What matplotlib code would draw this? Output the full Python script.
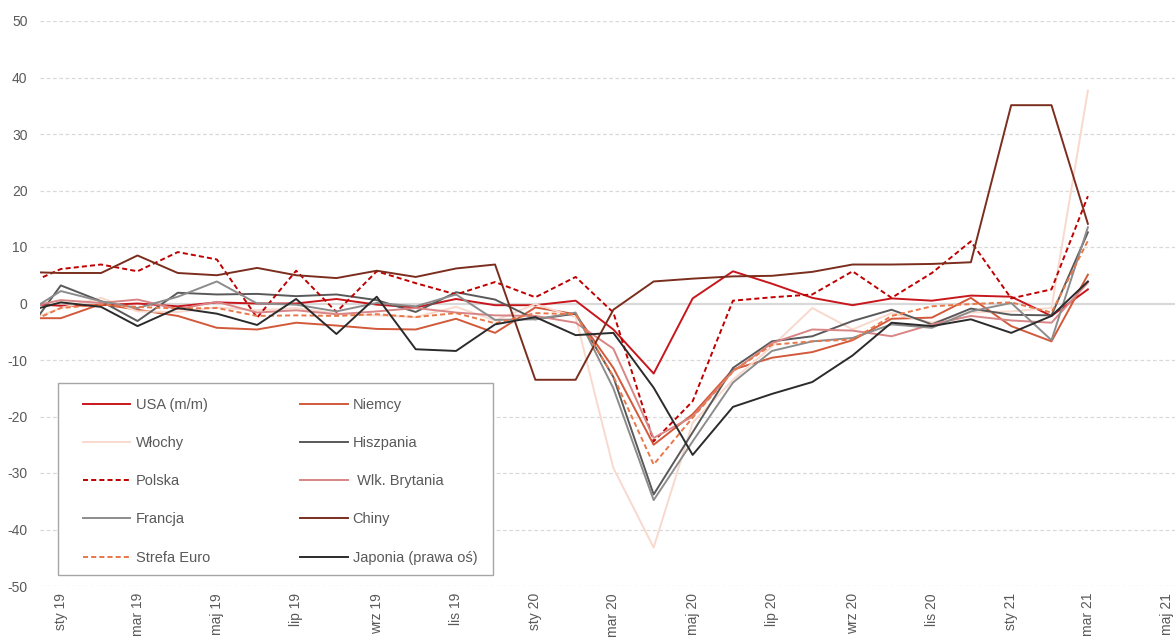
"""Industrial production: USA m/m, other economies y/y, Jan 2019 - Mar 2021."""

import matplotlib

matplotlib.use("Agg")  # headless
import matplotlib.pyplot as plt
import pandas as pd
from matplotlib.patches import Rectangle

# monthly observations, Dec 2018 .. Mar 2021 (Dec 2018 sits just off the left edge)
months = pd.date_range("2018-12-01", "2021-03-01", freq="MS")

usa = [0.0, -0.4, -0.3, 0.0, -0.5, 0.2, 0.0, 0.0, 0.8, -0.2, -0.7, 0.8, -0.3, -0.3,
       0.5, -4.6, -12.4, 0.9, 5.7, 3.5, 1.0, -0.3, 0.9, 0.5, 1.4, 1.2, -2.2, 2.5]
niemcy = [-2.6, -2.6, -0.1, -1.1, -2.2, -4.3, -4.6, -3.4, -3.9, -4.5, -4.6, -2.7, -5.2, -0.7,
          -1.9, -11.4, -25.0, -19.6, -11.7, -9.6, -8.6, -6.5, -2.7, -2.5, 1.0, -4.0, -6.7, 5.1]
wlochy = [-3.5, -0.8, 1.0, -1.4, -1.5, -0.7, -1.2, -0.8, -1.8, -2.1, -2.4, -0.6, -3.0, -0.1,
          -2.4, -29.1, -43.2, -21.1, -13.5, -7.6, -0.8, -4.6, -1.7, -3.4, -1.6, -1.4, -0.8, 37.7]
hiszpania = [-6.6, 3.2, 0.4, -3.1, 1.9, 1.6, 1.7, 1.3, 1.6, 0.6, -1.5, 2.0, 0.7, -2.8,
             -1.8, -13.0, -33.8, -22.8, -11.4, -6.7, -5.8, -3.1, -1.1, -3.7, -0.9, -2.0, -2.1, 12.6]
polska = [2.9, 6.1, 6.9, 5.7, 9.1, 7.8, -2.5, 5.8, -1.5, 5.7, 3.6, 1.6, 3.8, 1.1,
          4.7, -1.6, -24.4, -17.3, 0.5, 1.1, 1.6, 5.7, 1.0, 5.4, 11.0, 0.9, 2.5, 19.0]
wlk_brytania = [-0.9, 0.6, 0.1, 0.7, -1.0, 0.3, -1.6, -1.2, -1.9, -1.4, -0.8, -1.6, -2.1, -2.2,
                -3.4, -8.0, -23.8, -20.0, -12.0, -7.0, -4.6, -4.8, -5.8, -3.7, -2.2, -3.0, -3.4, 3.7]
francja = [-2.3, 2.2, 0.4, -0.8, 1.2, 3.9, 0.0, -0.2, -1.4, 0.1, -0.5, 1.6, -2.9, -2.8,
           -1.6, -15.0, -34.8, -24.4, -14.0, -8.4, -6.7, -6.1, -3.7, -4.3, -1.4, 0.1, -6.5, 13.5]
chiny = [5.6, 5.4, 5.4, 8.5, 5.4, 5.0, 6.3, 5.0, 4.5, 5.8, 4.7, 6.2, 6.9, -13.5,
         -13.5, -1.1, 3.9, 4.4, 4.8, 4.9, 5.6, 6.9, 6.9, 7.0, 7.3, 35.1, 35.1, 14.1]
strefa_euro = [-4.0, -0.8, -0.2, -0.6, -0.9, -0.8, -2.2, -2.1, -2.2, -1.9, -2.4, -1.7, -3.5, -1.7,
               -1.9, -12.9, -28.5, -20.2, -12.0, -7.3, -6.7, -6.4, -2.2, -0.5, -0.1, 0.2, -1.6, 11.1]
japonia = [-1.7, 0.2, -0.6, -4.0, -0.8, -1.8, -3.8, 0.8, -5.4, 1.2, -8.1, -8.4, -3.7, -2.4,
           -5.6, -5.2, -14.9, -26.8, -18.3, -16.0, -13.9, -9.2, -3.4, -4.0, -2.8, -5.2, -2.2, 3.9]

tick_dates = pd.date_range("2019-01-01", "2021-05-01", freq="2MS")
tick_labels = ["sty 19", "mar 19", "maj 19", "lip 19", "wrz 19", "lis 19",
               "sty 20", "mar 20", "maj 20", "lip 20", "wrz 20", "lis 20",
               "sty 21", "mar 21", "maj 21"]

plt.rcParams["font.family"] = ["Liberation Sans", "DejaVu Sans"]
plt.rcParams["axes.unicode_minus"] = False
GREY_TXT = "#595959"

# (label, values, colour, dashed) in Excel series order
series = [
    ("USA (m/m)", usa, "#c8161d", False),
    ("Niemcy", niemcy, "#d2593a", False),
    ("Włochy", wlochy, "#f8d9cd", False),
    ("Hiszpania", hiszpania, "#595959", False),
    ("Polska", polska, "#c00000", True),
    (" Wlk. Brytania", wlk_brytania, "#d98585", False),
    ("Francja", francja, "#8c8c8c", False),
    ("Chiny", chiny, "#7b2e1e", False),
    ("Strefa Euro", strefa_euro, "#e8784a", True),
    ("Japonia (prawa oś)", japonia, "#2b2b2b", False),
]

fig = plt.figure(figsize=(11.75, 6.37), dpi=100)
ax = fig.add_axes((40 / 1175, 51 / 637, 1135 / 1175, 565 / 637))

handles = {}
for label, vals, color, dashed in series:
    (ln,) = ax.plot(months, vals, color=color, lw=1.4, label=label, zorder=3)
    if dashed:
        ln.set_dashes((2.6, 1.6))
    handles[label] = ln

ax.set_ylim(-50, 50)
ax.set_xlim(pd.Timestamp("2018-12-16"), pd.Timestamp("2021-05-07"))
ax.set_yticks(range(-50, 51, 10))
for y in range(-50, 51, 10):
    if y == 0:
        ax.axhline(0, color="#d9d9d9", lw=1.6, zorder=1)
    else:
        ax.axhline(y, color="#d9d9d9", lw=0.9, ls=(0, (3, 2)), zorder=1)

ax.set_xticks(tick_dates)
ax.set_xticklabels(tick_labels, rotation=90, va="top", ha="center")
ax.tick_params(axis="both", length=0, colors=GREY_TXT, labelsize=10)
ax.tick_params(axis="y", pad=9)
ax.tick_params(axis="x", pad=5)
for s in ax.spines.values():
    s.set_visible(False)

# legend box drawn separately so its frame can be placed exactly
ax.add_patch(Rectangle((0.0159, 0.0195), 0.3833, 0.3398, transform=ax.transAxes,
                       facecolor="white", edgecolor="#a6a6a6", lw=1.0, zorder=5))
order = ["USA (m/m)", "Włochy", "Polska", "Francja", "Strefa Euro",
         "Niemcy", "Hiszpania", " Wlk. Brytania", "Chiny", "Japonia (prawa oś)"]
leg = ax.legend([handles[k] for k in order], order, ncol=2, frameon=False,
                loc="upper left", bbox_to_anchor=(0.0379, 0.333),
                borderpad=0, borderaxespad=0, fontsize=10.5,
                handlelength=3.25, handletextpad=0.35, labelspacing=1.66,
                columnspacing=6.2)
leg.set_zorder(6)
for t in leg.get_texts():
    t.set_color(GREY_TXT)

fig.savefig("out.png", dpi=100)
plt.close(fig)
